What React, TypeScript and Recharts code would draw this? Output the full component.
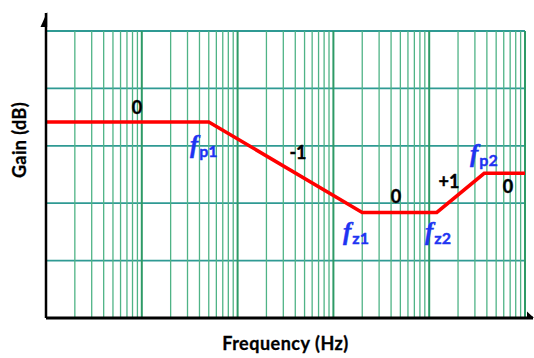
import React from "react";
import {
  ComposedChart,
  Line,
  XAxis,
  YAxis,
  ReferenceLine,
  ReferenceDot,
} from "recharts";

// Asymptotic Bode gain plot: two poles and two zeros
const frequencies = [1, 50, 2000, 12000, 37500, 100000];
const gains = [68.3, 68.3, 36.8, 36.8, 50.4, 50.4];

// Grid definition (log frequency axis, dB gain axis)
const decadeStarts = [1, 10, 100, 1000, 10000];
const decadeLines = [10, 100, 1000, 10000, 100000];
const mantissas = [2, 3, 4, 5, 6, 7, 8, 9];
const gainTicks = [0, 20, 40, 60, 80, 100];

// Slope labels along the asymptotes
const slopeLabels = [
  { text: "0", f: 8.9, g: 71.2 },
  { text: "-1", f: 427, g: 55.5 },
  { text: "0", f: 4500, g: 40.0 },
  { text: "+1", f: 16100, g: 45.4 },
  { text: "0", f: 66500, g: 43.7 },
];

// Pole / zero corner labels
const cornerLabels = [
  { sub: "p1", f: 31.8, g: 57.5 },
  { sub: "z1", f: 1259, g: 27.2 },
  { sub: "z2", f: 9040, g: 27.2 },
  { sub: "p2", f: 26650, g: 54.4 },
];

const data = frequencies.map((f, i) => ({ f, g: gains[i] }));
const minorLines = decadeStarts.flatMap((d) => mantissas.map((m) => m * d));

const FONT = "Lato, 'Open Sans', sans-serif";
const BLUE = "#1e34f2";

export default function App() {
  return (
    <div style={{ position: "absolute", left: 0, top: 0, background: "#fff" }}>
      <ComposedChart
        width={534}
        height={358}
        data={data}
        margin={{ top: 31, right: 9, bottom: 0, left: 0 }}
      >
        <XAxis
          dataKey="f"
          type="number"
          scale="log"
          domain={[1, 100000]}
          allowDataOverflow
          ticks={decadeLines}
          tick={false}
          tickLine={false}
          axisLine={{ stroke: "#000", strokeWidth: 3 }}
          height={40}
          label={{
            content: (p: any) => {
              const vb = p.viewBox;
              return (
                <text
                  x={vb.x + vb.width / 2}
                  y={vb.y + 32}
                  textAnchor="middle"
                  fontFamily={FONT}
                  fontWeight="bold"
                  fontSize={18}
                  letterSpacing={0.5}
                  stroke="#000"
                  strokeWidth={0.3}
                  fill="#000"
                >
                  Frequency (Hz)
                </text>
              );
            },
          }}
        />
        <YAxis
          type="number"
          domain={[0, 100]}
          ticks={gainTicks}
          tick={false}
          tickLine={false}
          axisLine={{ stroke: "#000", strokeWidth: 2.5 }}
          width={46}
          label={{
            content: (p: any) => {
              const vb = p.viewBox;
              const cx = vb.x + 19;
              const cy = vb.y + 109;
              return (
                <text
                  x={cx}
                  y={cy}
                  transform={`rotate(-90 ${cx} ${cy})`}
                  textAnchor="middle"
                  dominantBaseline="central"
                  fontFamily={FONT}
                  fontWeight="bold"
                  fontSize={18}
                  letterSpacing={0.4}
                  stroke="#000"
                  strokeWidth={0.3}
                  fill="#000"
                >
                  Gain (dB)
                </text>
              );
            },
          }}
        />

        {gainTicks.slice(1).map((g) => (
          <ReferenceLine
            key={`h${g}`}
            y={g}
            stroke="#2f9a93"
            strokeWidth={1.8}
          />
        ))}
        {minorLines.map((f) => (
          <ReferenceLine
            key={`m${f}`}
            x={f}
            stroke="#4fb386"
            strokeWidth={1.3}
          />
        ))}
        {decadeLines.map((f) => (
          <ReferenceLine
            key={`d${f}`}
            x={f}
            stroke="#2e9a66"
            strokeWidth={2}
          />
        ))}

        {/* axis extensions with half arrowheads */}
        <ReferenceDot
          x={1}
          y={100}
          r={0}
          ifOverflow="visible"
          shape={(p: any) => (
            <g>
              <line x1={p.cx} y1={p.cy} x2={p.cx} y2={p.cy - 18} stroke="#000" strokeWidth={2.5} />
              <polygon
                points={`${p.cx + 1.2},${p.cy - 19} ${p.cx - 5.5},${p.cy - 4} ${p.cx + 1.2},${p.cy - 4}`}
                fill="#000"
              />
            </g>
          )}
        />
        <ReferenceDot
          x={100000}
          y={0}
          r={0}
          ifOverflow="visible"
          shape={(p: any) => (
            <g>
              <line x1={p.cx} y1={p.cy} x2={p.cx + 8} y2={p.cy} stroke="#000" strokeWidth={3} />
              <polygon
                points={`${p.cx + 2},${p.cy - 6.5} ${p.cx + 9},${p.cy} ${p.cx + 2},${p.cy}`}
                fill="#000"
              />
            </g>
          )}
        />

        <Line
          dataKey="g"
          type="linear"
          stroke="#ff0000"
          strokeWidth={3.5}
          dot={false}
          activeDot={false}
          isAnimationActive={false}
        />

        {slopeLabels.map((l, i) => (
          <ReferenceDot
            key={`s${i}`}
            x={l.f}
            y={l.g}
            r={0}
            ifOverflow="visible"
            shape={(p: any) => (
              <text
                x={p.cx}
                y={p.cy}
                textAnchor="middle"
                fontFamily={FONT}
                fontWeight="bold"
                fontSize={18}
                stroke="#000"
                strokeWidth={0.4}
                fill="#000"
              >
                {l.text}
              </text>
            )}
          />
        ))}
        {cornerLabels.map((l, i) => (
          <ReferenceDot
            key={`c${i}`}
            x={l.f}
            y={l.g}
            r={0}
            ifOverflow="visible"
            shape={(p: any) => (
              <text x={p.cx} y={p.cy} fill={BLUE} stroke={BLUE} strokeWidth={0.4} fontWeight="bold">
                <tspan
                  fontFamily="'Liberation Serif', serif"
                  fontStyle="italic"
                  fontSize={25}
                >
                  f
                </tspan>
                <tspan fontFamily={FONT} fontSize={16} dx={1} dy={4}>
                  {l.sub}
                </tspan>
              </text>
            )}
          />
        ))}
      </ComposedChart>
    </div>
  );
}
